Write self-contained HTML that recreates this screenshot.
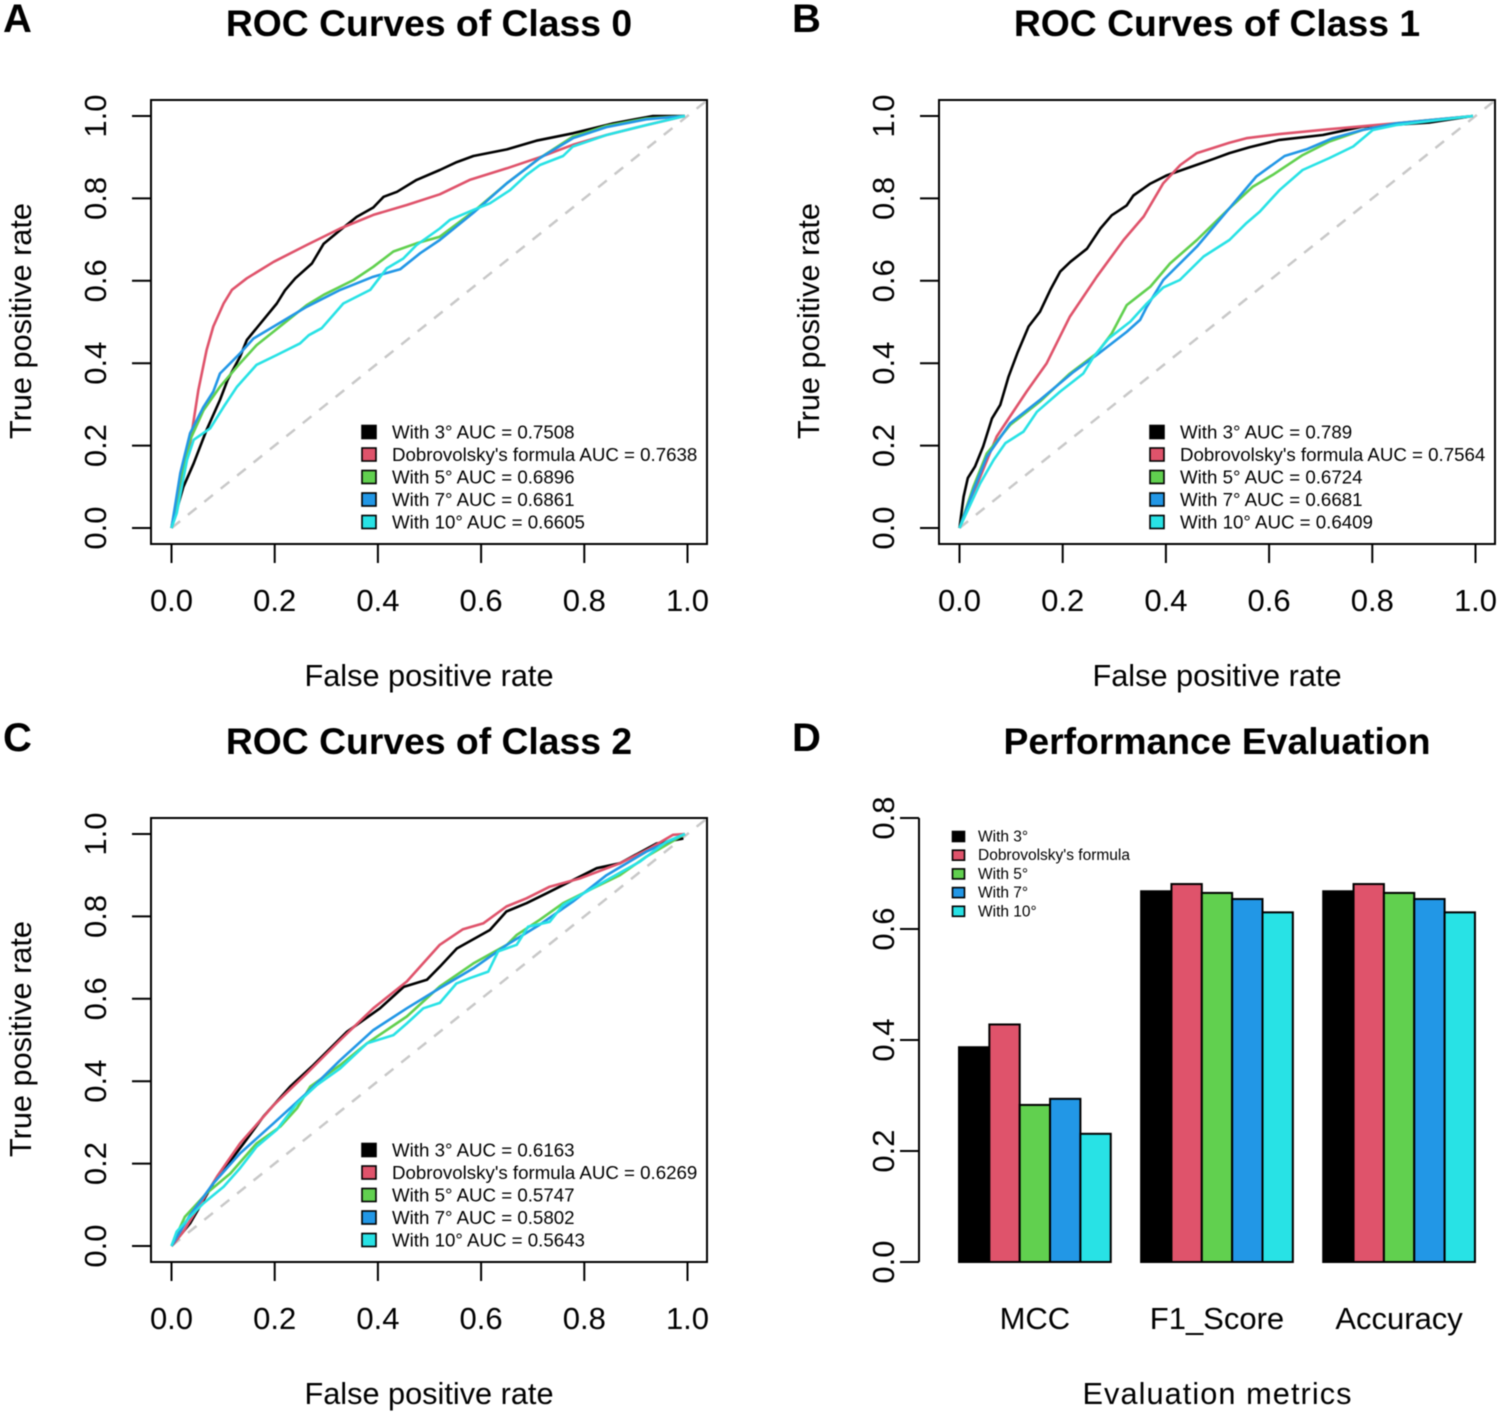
<!DOCTYPE html>
<html lang="en">
<head>
<meta charset="utf-8">
<title>ROC Curves and Performance Evaluation</title>
<style>
html,body{margin:0;padding:0;background:#fff;}
svg{display:block;font-family:"Liberation Sans",Arial,sans-serif;filter:blur(0.4px);}
</style>
</head>
<body>
<svg id="figure" width="1500" height="1414" viewBox="0 0 1500 1414" xmlns="http://www.w3.org/2000/svg"></svg>
<script>
const seriesNames = ["With 3°", "Dobrovolsky's formula", "With 5°", "With 7°", "With 10°"];
const seriesColors = ["#000000", "#df536b", "#61d04f", "#2297e6", "#28e2e5"];
const axisTicks = ["0.0", "0.2", "0.4", "0.6", "0.8", "1.0"];
const barTicks = ["0.0", "0.2", "0.4", "0.6", "0.8"];
const aucClass0 = ["0.7508", "0.7638", "0.6896", "0.6861", "0.6605"];
const aucClass1 = ["0.789", "0.7564", "0.6724", "0.6681", "0.6409"];
const aucClass2 = ["0.6163", "0.6269", "0.5747", "0.5802", "0.5643"];

const class0Black = [[0,0],[.023,.10],[.043,.157],[.068,.238],[.094,.311],[.109,.36],[.133,.416],[.146,.456],[.178,.505],[.204,.545],[.22,.577],[.24,.606],[.272,.642],[.295,.69],[.327,.723],[.359,.755],[.391,.778],[.411,.804],[.437,.816],[.475,.845],[.52,.869],[.553,.888],[.585,.903],[.65,.919],[.707,.94],[.778,.958],[.856,.982],[.933,1],[.995,1]];
const class0Red = [[0,0],[.017,.108],[.036,.205],[.052,.334],[.068,.432],[.081,.489],[.101,.545],[.117,.578],[.146,.606],[.198,.646],[.262,.687],[.327,.727],[.391,.76],[.456,.784],[.52,.81],[.578,.845],[.65,.873],[.714,.9],[.778,.93],[.843,.954],[.92,.978],[.995,1]];
const class0Green = [[0,0],[.017,.117],[.036,.214],[.062,.286],[.094,.343],[.133,.4],[.165,.444],[.198,.477],[.23,.509],[.262,.541],[.295,.566],[.353,.602],[.391,.634],[.43,.671],[.475,.691],[.52,.707],[.585,.768],[.65,.837],[.714,.898],[.778,.95],[.843,.976],[.92,.994],[.995,1]];
const class0Blue = [[0,0],[.017,.133],[.036,.23],[.062,.294],[.081,.331],[.094,.375],[.133,.424],[.159,.46],[.198,.489],[.262,.537],[.327,.578],[.391,.61],[.443,.628],[.482,.667],[.52,.699],[.585,.765],[.65,.837],[.714,.898],[.778,.946],[.843,.973],[.92,.992],[.995,1]];
const class0Cyan = [[0,0],[.01,.036],[.03,.165],[.043,.214],[.075,.242],[.101,.294],[.127,.343],[.165,.396],[.204,.42],[.249,.448],[.266,.468],[.291,.485],[.333,.545],[.385,.578],[.417,.63],[.449,.654],[.475,.687],[.52,.727],[.54,.748],[.585,.772],[.617,.788],[.656,.82],[.688,.857],[.714,.881],[.759,.903],[.778,.926],[.843,.954],[.92,.978],[.995,1]];

const class1Black = [[0,0],[.008,.076],[.016,.121],[.03,.149],[.046,.198],[.063,.266],[.079,.299],[.095,.367],[.112,.424],[.134,.489],[.156,.525],[.176,.578],[.195,.622],[.215,.646],[.247,.678],[.273,.727],[.295,.759],[.324,.783],[.337,.807],[.37,.836],[.402,.856],[.447,.876],[.493,.896],[.523,.91],[.562,.924],[.62,.942],[.704,.954],[.78,.974],[.91,.984],[.995,1]];
const class1Red = [[0,0],[.027,.084],[.072,.222],[.13,.331],[.169,.4],[.214,.513],[.266,.61],[.318,.699],[.357,.756],[.395,.837],[.428,.881],[.46,.91],[.523,.935],[.556,.946],[.62,.956],[.717,.968],[.807,.978],[.995,1]];
const class1Green = [[0,0],[.027,.1],[.053,.181],[.098,.25],[.156,.307],[.214,.375],[.266,.424],[.295,.472],[.324,.541],[.37,.586],[.408,.642],[.46,.699],[.523,.776],[.568,.828],[.607,.857],[.665,.905],[.717,.938],[.781,.966],[.846,.982],[.995,1]];
const class1Blue = [[0,0],[.027,.092],[.053,.173],[.098,.254],[.156,.311],[.221,.379],[.266,.42],[.324,.476],[.35,.505],[.363,.537],[.395,.602],[.46,.683],[.523,.776],[.575,.853],[.63,.903],[.672,.919],[.723,.946],[.781,.966],[.846,.982],[.995,1]];
const class1Cyan = [[0,0],[.04,.108],[.066,.165],[.089,.206],[.124,.234],[.15,.282],[.195,.331],[.24,.375],[.26,.416],[.289,.46],[.331,.501],[.363,.545],[.395,.584],[.427,.602],[.473,.659],[.523,.699],[.556,.74],[.582,.768],[.62,.82],[.665,.869],[.717,.898],[.763,.926],[.801,.966],[.846,.978],[.995,1]];

const class2Black = [[0,0],[.036,.055],[.081,.152],[.14,.249],[.178,.314],[.23,.387],[.275,.439],[.34,.52],[.404,.577],[.45,.629],[.495,.646],[.52,.678],[.553,.722],[.617,.767],[.649,.812],[.688,.832],[.727,.856],[.824,.917],[.869,.929],[.94,.977],[.992,.989]];
const class2Red = [[0,0],[.023,.035],[.088,.168],[.133,.249],[.198,.342],[.262,.419],[.327,.5],[.391,.577],[.456,.642],[.52,.731],[.565,.769],[.604,.783],[.649,.824],[.688,.844],[.733,.872],[.791,.892],[.869,.929],[.927,.965],[.972,.998],[.995,1]];
const class2Green = [[0,0],[.026,.071],[.068,.128],[.114,.176],[.165,.249],[.211,.29],[.243,.334],[.269,.387],[.327,.439],[.379,.492],[.456,.557],[.52,.63],[.585,.686],[.65,.731],[.669,.755],[.714,.792],[.759,.832],[.81,.864],[.869,.9],[.92,.945],[.995,1]];
const class2Blue = [[0,0],[.036,.075],[.081,.152],[.133,.225],[.198,.298],[.262,.371],[.327,.451],[.391,.524],[.456,.577],[.52,.626],[.585,.674],[.65,.731],[.714,.78],[.778,.836],[.843,.9],[.92,.957],[.995,1]];
const class2Cyan = [[0,0],[.01,.035],[.036,.071],[.062,.104],[.101,.144],[.133,.189],[.165,.241],[.204,.282],[.243,.346],[.282,.391],[.327,.431],[.379,.492],[.43,.512],[.456,.54],[.488,.577],[.52,.59],[.552,.637],[.578,.65],[.614,.666],[.633,.715],[.669,.731],[.691,.775],[.733,.787],[.759,.828],[.804,.86],[.849,.892],[.908,.933],[.959,.981],[.995,1]];

const metricNames = ["MCC", "F1_Score", "Accuracy"];
const mccValues = [0.387, 0.428, 0.283, 0.294, 0.231];
const f1Values = [0.668, 0.681, 0.665, 0.654, 0.630];
const accuracyValues = [0.668, 0.681, 0.665, 0.654, 0.630];

const svg = document.getElementById('figure');
const NS = 'http://www.w3.org/2000/svg';

function make(tag, attrs, parent, text) {
  const el = document.createElementNS(NS, tag);
  for (const k in attrs) el.setAttribute(k, attrs[k]);
  if (text !== undefined) el.textContent = text;
  (parent || svg).appendChild(el);
  return el;
}

function slug(s) {
  return s.toLowerCase().replace(/[^a-z0-9]+/g, '-').replace(/^-|-$/g, '');
}

function rotatedText(x, y, size, str, name, parent) {
  const el = make('text', {x: x, y: y, 'font-size': size, 'text-anchor': 'middle', fill: '#000', transform: 'rotate(-90 ' + x + ' ' + y + ')'}, parent, str);
  
  
  return el;
}

function plainText(x, y, size, str, name, parent, anchor, weight) {
  const el = make('text', {x: x, y: y, 'font-size': size, 'text-anchor': anchor || 'middle', 'font-weight': weight || 'normal', fill: '#000'}, parent, str);
  
  
  return el;
}

function tickLine(x1, y1, x2, y2, name, parent) {
  const el = make('line', {x1: x1, y1: y1, x2: x2, y2: y2, stroke: '#000', 'stroke-width': 2}, parent);
  
  
  return el;
}

function panelLetter(x, y, str) {
  plainText(x, y, 40, str, 'panel-letter-' + str.toLowerCase(), svg, 'start', 'bold');
}

function drawRocPanel(id, title, ox, oy, curves, aucs) {
  const g = make('g', {}, svg);
  
  

  const left = ox, right = ox + 556, top = oy, bottom = oy + 444;
  const xScale = function (v) { return left + 20.5 + v * 516; };
  const yScale = function (v) { return bottom - 16 - v * 412; };

  plainText(left + 278, top - 64, 37.3, title, 'chart-title', g, 'middle', 'bold');

  const diag = make('line', {x1: xScale(0), y1: yScale(0), x2: xScale(1.039), y2: yScale(1.039), stroke: '#c8c8c8', 'stroke-width': 2.5, 'stroke-dasharray': '11 10'}, g);
  
  

  curves.forEach(function (pts, i) {
    const d = pts.map(function (p, j) { return (j ? 'L' : 'M') + xScale(p[0]).toFixed(1) + ' ' + yScale(p[1]).toFixed(1); }).join(' ');
    const path = make('path', {d: d, fill: 'none', stroke: seriesColors[i], 'stroke-width': 2.6, 'stroke-linejoin': 'round'}, g);
    
    
  });

  const box = make('rect', {x: left, y: top, width: right - left, height: bottom - top, fill: 'none', stroke: '#000', 'stroke-width': 2}, g);
  
  

  axisTicks.forEach(function (t) {
    const v = parseFloat(t);
    tickLine(xScale(v), bottom, xScale(v), bottom + 19, 'x-tick-' + t, g);
    plainText(xScale(v), bottom + 67, 31, t, 'x-tick-label-' + t, g);
    tickLine(left, yScale(v), left - 19, yScale(v), 'y-tick-' + t, g);
    rotatedText(left - 45, yScale(v), 31, t, 'y-tick-label-' + t, g);
  });

  plainText(left + 278, bottom + 142, 30.7, 'False positive rate', 'x-axis-title', g);
  rotatedText(left - 120, top + 221, 30.7, 'True positive rate', 'y-axis-title', g);

  const legend = make('g', {}, g);
  
  
  seriesNames.forEach(function (n, i) {
    const cy = top + 332 + i * 22.5;
    const sw = make('rect', {x: left + 211, y: cy - 6.5, width: 14, height: 13, fill: seriesColors[i], stroke: '#000', 'stroke-width': 1.6}, legend);
    
    
    plainText(left + 241, cy + 6.5, 18.7, n + ' AUC = ' + aucs[i], 'legend-entry-' + slug(n), legend, 'start');
  });
}

function drawBarPanel() {
  const g = make('g', {}, svg);
  
  

  const yBase = 1262, unitY = 555;
  const xStart = 959, barW = 30.35;
  const yScale = function (v) { return yBase - v * unitY; };
  const xScale = function (u) { return xStart + u * barW; };

  plainText(1217, 754, 37.3, 'Performance Evaluation', 'chart-title', g, 'middle', 'bold');

  tickLine(919, yScale(0), 919, yScale(0.8), 'y-axis-line', g);
  barTicks.forEach(function (t) {
    const v = parseFloat(t);
    tickLine(919, yScale(v), 900, yScale(v), 'y-tick-' + t, g);
    rotatedText(894, yScale(v), 31, t, 'y-tick-label-' + t, g);
  });

  const groups = [mccValues, f1Values, accuracyValues];
  groups.forEach(function (vals, gi) {
    vals.forEach(function (v, i) {
      const u = gi * 6 + i;
      const bar = make('rect', {x: xScale(u), y: yScale(v), width: barW, height: yScale(0) - yScale(v), fill: seriesColors[i], stroke: '#000', 'stroke-width': 2}, g);
      
      
    });
    plainText(xScale(gi * 6 + 2.5), 1329, 31, metricNames[gi], 'x-category-label-' + slug(metricNames[gi]), g);
  });

  const evalTitle = plainText(1217, 1404, 30.7, 'Evaluation metrics', 'x-axis-title', g);
  evalTitle.setAttribute('textLength', '269');
  evalTitle.setAttribute('lengthAdjust', 'spacing');

  const legend = make('g', {}, g);
  
  
  seriesNames.forEach(function (n, i) {
    const cy = 836.5 + i * 18.7;
    const sw = make('rect', {x: 952.5, y: cy - 5, width: 12, height: 10, fill: seriesColors[i], stroke: '#000', 'stroke-width': 1.6}, legend);
    
    
    plainText(978, cy + 5, 15.5, n, 'legend-entry-' + slug(n), legend, 'start');
  });
}

panelLetter(3, 32, 'A');
panelLetter(792, 32, 'B');
panelLetter(3, 751, 'C');
panelLetter(792, 751, 'D');

drawRocPanel('class-0', 'ROC Curves of Class 0', 151, 100, [class0Black, class0Red, class0Green, class0Blue, class0Cyan], aucClass0);
drawRocPanel('class-1', 'ROC Curves of Class 1', 939, 100, [class1Black, class1Red, class1Green, class1Blue, class1Cyan], aucClass1);
drawRocPanel('class-2', 'ROC Curves of Class 2', 151, 818, [class2Black, class2Red, class2Green, class2Blue, class2Cyan], aucClass2);
drawBarPanel();
</script>
</body>
</html>
